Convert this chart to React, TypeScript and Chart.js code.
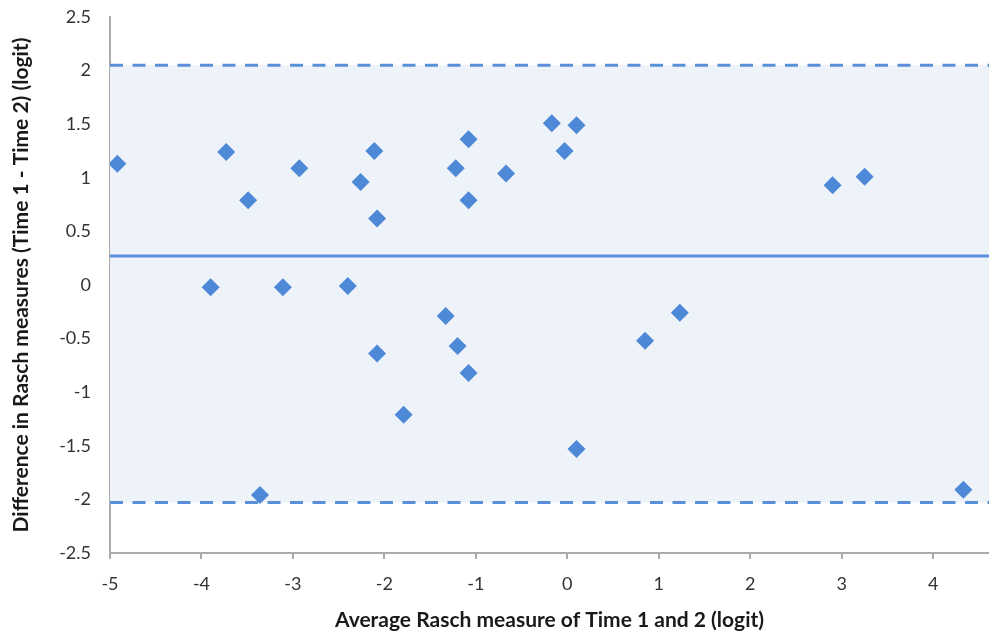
import React, { useEffect, useRef } from "react";
import { Chart, registerables } from "chart.js";

Chart.register(...registerables);

// Average Rasch measure (x) and difference (y) per participant
const avgMeasure = [
  -4.92, -3.73, -3.49, -2.93, -3.90, -3.11, -2.11, -2.26, -2.08, -2.40,
  -1.08, -1.22, -1.08, -0.67, -0.17, 0.10, -0.03, -1.33, -2.08, -1.20,
  -1.08, -1.79, 0.10, 0.85, 1.23, 4.33, 2.90, 3.25, -3.36,
];
const diffMeasure = [
  1.13, 1.24, 0.79, 1.09, -0.02, -0.02, 1.25, 0.96, 0.62, -0.01,
  1.36, 1.09, 0.79, 1.04, 1.51, 1.49, 1.25, -0.29, -0.64, -0.57,
  -0.82, -1.21, -1.53, -0.52, -0.26, -1.91, 0.93, 1.01, -1.96,
];

const meanDiff = 0.27;
const upperLoA = 2.05;
const lowerLoA = -2.03;

const xMin = -5;
const xMax = 4.61;
const yMin = -2.5;
const yMax = 2.5;
const xTickValues = [-5, -4, -3, -2, -1, 0, 1, 2, 3, 4];

const xTitle = "Average Rasch measure of Time 1 and 2 (logit)";
const yTitle = "Difference in Rasch measures (Time 1 - Time 2) (logit)";

const BLUE = "#4D89D6";
const LINE_BLUE = "#5A90D8";
const SHADE = "#EEF3FA";
const FONT = "Lato, 'Open Sans', sans-serif";

export default function App() {
  const ref = useRef<HTMLCanvasElement | null>(null);

  useEffect(() => {
    if (!ref.current) return;
    const points = avgMeasure.map((x, i) => ({ x, y: diffMeasure[i] }));
    const chart = new Chart(ref.current, {
      type: "scatter",
      data: {
        datasets: [
          {
            type: "scatter",
            data: points,
            backgroundColor: BLUE,
            borderColor: BLUE,
            borderWidth: 0,
            pointStyle: "rectRot",
            pointRadius: 9,
            pointHoverRadius: 9,
          },
          {
            type: "line",
            data: [
              { x: xMin, y: upperLoA },
              { x: xMax, y: upperLoA },
            ],
            borderColor: LINE_BLUE,
            borderWidth: 3,
            borderDash: [13, 9.5],
            pointRadius: 0,
            fill: { target: { value: lowerLoA } },
            backgroundColor: SHADE,
          },
          {
            type: "line",
            data: [
              { x: xMin, y: meanDiff },
              { x: xMax, y: meanDiff },
            ],
            borderColor: LINE_BLUE,
            borderWidth: 3,
            pointRadius: 0,
            fill: false,
          },
          {
            type: "line",
            data: [
              { x: xMin, y: lowerLoA },
              { x: xMax, y: lowerLoA },
            ],
            borderColor: LINE_BLUE,
            borderWidth: 3,
            borderDash: [13, 9.5],
            pointRadius: 0,
            fill: false,
          },
        ],
      },
      options: {
        animation: false,
        responsive: true,
        maintainAspectRatio: false,
        layout: { autoPadding: false, padding: { left: 0, right: 0, top: 17, bottom: 0 } } as any,
        plugins: {
          legend: { display: false },
          tooltip: { enabled: false },
          filler: { drawTime: "beforeDatasetsDraw" },
        } as any,
        scales: {
          x: {
            type: "linear",
            min: xMin,
            max: xMax,
            afterFit: (s: any) => {
              s.height = 83;
              s.paddingLeft = 0;
              s.paddingRight = 0;
            },
            afterBuildTicks: (s: any) => {
              s.ticks = xTickValues.map((v) => ({ value: v }));
            },
            grid: {
              drawOnChartArea: false,
              drawTicks: true,
              tickLength: 6,
              color: "#ABABAB",
              lineWidth: 2,
            },
            border: { color: "#ABABAB", width: 2 },
            ticks: {
              padding: 14,
              color: "#333333",
              font: { family: FONT, size: 18 },
              callback: (v: any) => String(v),
            },
            title: {
              display: true,
              text: xTitle,
              color: "#1a1a1a",
              font: { family: FONT, size: 21, weight: "bold" },
              padding: { top: 0, bottom: 3 },
            },
          },
          y: {
            type: "linear",
            min: yMin,
            max: yMax,
            afterFit: (s: any) => {
              s.width = 110;
              s.paddingTop = 0;
              s.paddingBottom = 0;
            },
            ticks: {
              stepSize: 0.5,
              padding: 19,
              color: "#333333",
              font: { family: FONT, size: 18 },
              callback: (v: any) => String(Math.round(Number(v) * 10) / 10),
            },
            grid: {
              drawOnChartArea: false,
              drawTicks: false,
            },
            border: { color: "#ABABAB", width: 2 },
            title: {
              display: true,
              text: yTitle,
              color: "#1a1a1a",
              font: { family: FONT, size: 21, weight: "bold" },
              padding: { top: 9, bottom: 0 },
            },
          },
        },
      },
    });
    return () => chart.destroy();
  }, []);

  return (
    <div style={{ position: "absolute", left: 0, top: 0, width: 989, height: 636, background: "#fff" }}>
      <canvas ref={ref} />
    </div>
  );
}
